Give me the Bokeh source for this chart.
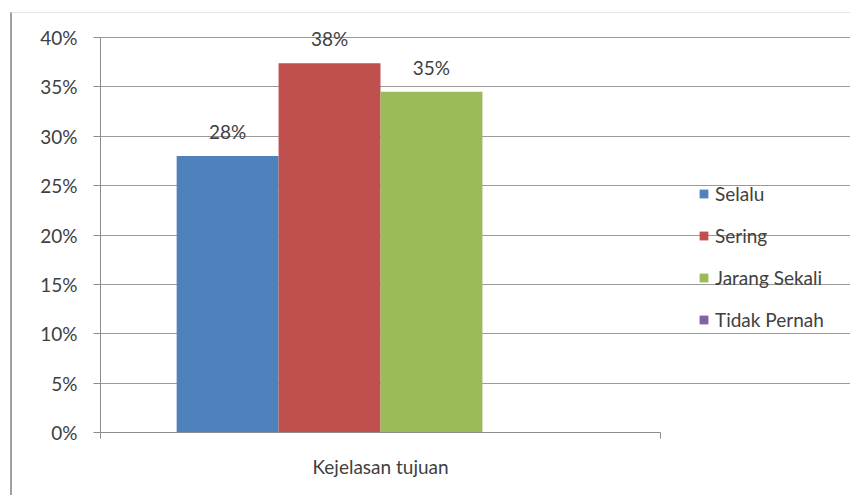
from bokeh.plotting import figure
from bokeh.models import (Range1d, FixedTicker, NumeralTickFormatter, Legend, LegendItem,
                          ColumnDataSource)
from bokeh.embed import file_html
from bokeh.resources import INLINE

categories = ["Kejelasan tujuan"]
series = ["Selalu", "Sering", "Jarang Sekali", "Tidak Pernah"]
values = [0.28, 0.374, 0.345, 0.0]
labels = ["28%", "38%", "35%", ""]
colors = ["#4F81BD", "#C0504D", "#9BBB59", "#8064A2"]
y_ticks = [0, 0.05, 0.10, 0.15, 0.20, 0.25, 0.30, 0.35, 0.40]

FONT = "Lato"
FS = "19px"
TXT = "#404040"
bar_w = 0.182
n = len(series)
xs = [0.5 + (i - (n - 1) / 2) * bar_w for i in range(n)]

src = ColumnDataSource(dict(x=xs, top=values, color=colors, name=series, label=labels))

# frame spans to the right/top edges so texts placed there are not clipped;
# grid and axes are bounded to the data span
p = figure(width=840, height=483, output_backend="svg", toolbar_location=None,
           x_range=Range1d(0, 752 / 560), y_range=Range1d(0, 0.40 * 419 / 395),
           min_border_left=88, min_border_right=0, min_border_top=0, min_border_bottom=64)
p.margin = (12, 0, 0, 10)
p.styles = {"border-left": "2px solid #a0a0a0", "border-top": "1px solid #e4e4e4"}
p.outline_line_color = None
p.background_fill_color = "white"
p.border_fill_color = "white"

# grid
p.xgrid.grid_line_color = None
p.ygrid.grid_line_color = "#9a9a9a"
p.ygrid.grid_line_width = 1
p.ygrid.ticker = FixedTicker(ticks=y_ticks)
p.ygrid.bounds = (0, 1)

# y axis
p.yaxis.ticker = FixedTicker(ticks=y_ticks, minor_ticks=[])
p.yaxis.bounds = (0, 0.40)
p.yaxis.formatter = NumeralTickFormatter(format="0%")
p.yaxis.axis_line_color = "#8c8c8c"
p.yaxis.major_tick_line_color = "#8c8c8c"
p.yaxis.major_tick_out = 7
p.yaxis.major_tick_in = 0
p.yaxis.minor_tick_line_color = None
p.yaxis.major_label_text_font = FONT
p.yaxis.major_label_text_font_size = FS
p.yaxis.major_label_text_color = TXT
p.yaxis.major_label_standoff = 16

# x axis
p.xaxis.ticker = FixedTicker(ticks=[0.5], minor_ticks=[0, 1])
p.xaxis.bounds = (0, 1)
p.xaxis.major_label_overrides = {0.5: categories[0]}
p.xaxis.axis_line_color = "#8c8c8c"
p.xaxis.major_tick_line_color = None
p.xaxis.major_tick_out = 0
p.xaxis.minor_tick_line_color = "#8c8c8c"
p.xaxis.minor_tick_out = 6
p.xaxis.minor_tick_in = 0
p.xaxis.major_label_text_font = FONT
p.xaxis.major_label_text_font_size = FS
p.xaxis.major_label_text_color = TXT
p.xaxis.major_label_standoff = 16

bars = p.vbar(x="x", top="top", width=bar_w, bottom=0, fill_color="color",
              line_color=None, source=src)

lab_src = ColumnDataSource(dict(x=[x for x, v in zip(xs, values) if v > 0],
                                y=[v for v in values if v > 0],
                                t=[l for l, v in zip(labels, values) if v > 0]))
p.text(x="x", y="y", text="t", source=lab_src, text_align="center",
       text_baseline="bottom", y_offset=-13, text_font={"value": FONT},
       text_font_size=FS, text_color=TXT)

items = [LegendItem(label=s, renderers=[bars], index=i) for i, s in enumerate(series)]
legend = Legend(items=items, location=(598, 101), orientation="vertical",
                padding=0, margin=0, spacing=19, glyph_width=11, glyph_height=11,
                label_standoff=6, label_height=22,
                label_text_font=FONT, label_text_font_size=FS,
                label_text_color=TXT, border_line_color=None,
                background_fill_alpha=0)
p.add_layout(legend, "center")

open("out.html", "w").write(file_html(p, INLINE))
